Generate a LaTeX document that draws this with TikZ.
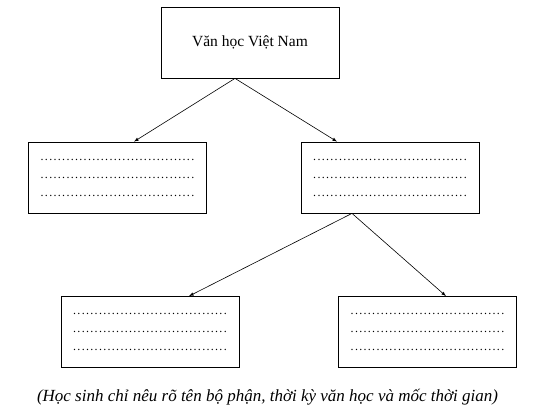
\documentclass[tikz,border=0pt]{standalone}
\usepackage{fontspec}
\setmainfont{Liberation Serif}
\usetikzlibrary{arrows, calc}
\tikzstyle{title-box} = [rectangle, minimum width=178pt, minimum height=71pt, text centered, draw=black, line width=0.8pt, font=\fontsize{15.5}{18}\selectfont]
\tikzstyle{blank-box} = [rectangle, minimum width=178pt, minimum height=71pt, inner sep=0pt, align=left, draw=black, line width=0.8pt, font=\fontsize{12}{18}\selectfont]
\tikzstyle{arrow} = [line width=0.6pt,->,>=latex]
\newcommand{\dotrow}{\hbox to 155pt{\xleaders\hbox to 4.2pt{\hss.\hss}\hfill}}
\newcommand{\blanks}{\dotrow\\\dotrow\\\dotrow}

\begin{document}
\begin{tikzpicture}[x=1pt, y=-1pt]
\useasboundingbox (0,0) rectangle (544,412);

% Top level
\node (vhvn) [title-box] at (250,42.5) {Văn học Việt Nam};

% Second level
\node (part-a) [blank-box] at (117.5,177.5) {\blanks};
\node (part-b) [blank-box] at (390,177.5) {\blanks};

\draw [arrow] ([xshift=-15pt]vhvn.south) -- ([xshift=16.5pt]part-a.north);
\draw [arrow] ([xshift=-15pt]vhvn.south) -- ([xshift=-53pt]part-b.north);

% Third level
\node (period-a) [blank-box] at (150,332) {\blanks};
\node (period-b) [blank-box] at (427.5,332) {\blanks};

\draw [arrow] ([xshift=-38pt]part-b.south) -- ([xshift=39pt]period-a.north);
\draw [arrow] ([xshift=-38pt]part-b.south) -- ([xshift=18.5pt]period-b.north);

% Note
\node (note) at (267.5,397) {\fontsize{17}{20}\selectfont\itshape (Học sinh chỉ nêu rõ tên bộ phận, thời kỳ văn học và mốc thời gian)};

\end{tikzpicture}
\end{document}
